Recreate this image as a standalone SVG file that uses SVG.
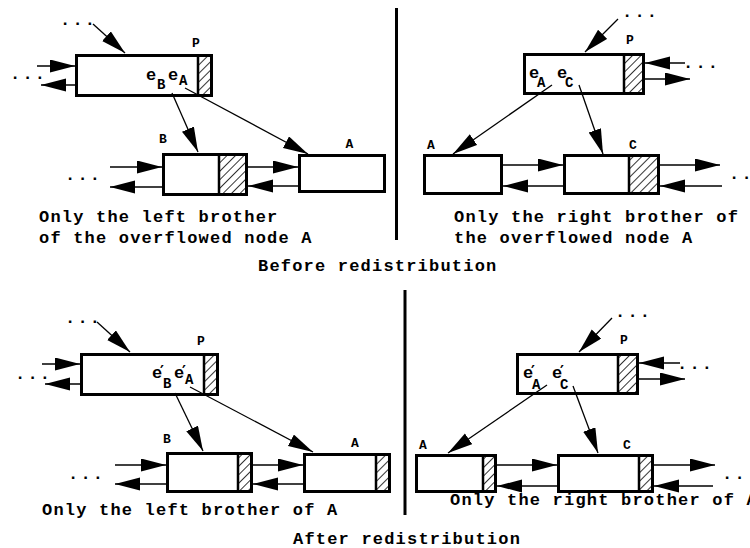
<svg xmlns="http://www.w3.org/2000/svg" width="750" height="548" viewBox="0 0 750 548">
<defs>
<marker id="ah" markerUnits="userSpaceOnUse" markerWidth="26" markerHeight="14" refX="25" refY="6.5" orient="auto">
<path d="M0,0 L25,6.5 L0,13 z" fill="#000"/>
</marker>
<pattern id="hatch" patternUnits="userSpaceOnUse" width="6" height="6" patternTransform="rotate(45)">
<line x1="0" y1="0" x2="0" y2="6" stroke="#000" stroke-width="1.6"/>
</pattern>
</defs>
<style>
.box{fill:#fff;stroke:#000;stroke-width:3}
.hat{fill:url(#hatch);stroke:#000;stroke-width:2.5}
.c{stroke:#000;stroke-width:1.3;fill:none;marker-end:url(#ah)}
.t{font-family:"Liberation Mono","Courier New",monospace;font-weight:bold;font-size:17px;letter-spacing:1.2px;fill:#000}
.d{font-family:"Liberation Mono","Courier New",monospace;font-weight:bold;font-size:17px;letter-spacing:2.2px;fill:#000}
.l{font-family:"Liberation Mono","Courier New",monospace;font-weight:bold;font-size:13px;text-anchor:middle;fill:#000}
.e{font-family:"Liberation Mono","Courier New",monospace;font-weight:bold;font-size:17px;fill:#000}
.s{font-family:"Liberation Mono","Courier New",monospace;font-weight:bold;font-size:14px;fill:#000}
.p{font-family:"DejaVu Sans","Liberation Sans",sans-serif;font-weight:bold;font-size:15px;fill:#000}
.div{stroke:#000;stroke-width:3}
</style>
<g id="dividers">
<line class="div" x1="396.5" y1="8" x2="396.5" y2="240"/>
<line class="div" x1="405" y1="290" x2="405" y2="515"/>
</g>
<!-- Top-left panel -->
<g id="tl-P">
<rect class="box" x="76.5" y="55.5" width="135" height="40"/>
<rect class="hat" x="198" y="55.5" width="13.5" height="40"/>
<rect x="76.5" y="55.5" width="135" height="40" fill="none" stroke="#000" stroke-width="3"/>
<text class="l" x="196" y="47">P</text>
<text class="e" x="146" y="80">e</text><text class="s" x="157" y="89">B</text>
<text class="e" x="168" y="80">e</text><text class="s" x="179" y="85">A</text>
</g>
<g id="tl-B">
<rect class="box" x="163.5" y="154.5" width="83" height="40"/>
<rect class="hat" x="219" y="154.5" width="27.5" height="40"/>
<rect x="163.5" y="154.5" width="83" height="40" fill="none" stroke="#000" stroke-width="3"/>
<text class="l" x="163" y="143">B</text>
</g>
<g id="tl-A">
<rect class="box" x="299.5" y="155.5" width="85" height="36"/>
<text class="l" x="349.5" y="148">A</text>
</g>
<!-- Top-right panel -->
<g id="tr-P">
<rect class="box" x="524.5" y="54.5" width="119" height="39"/>
<rect class="hat" x="624" y="54.5" width="19.5" height="39"/>
<rect x="524.5" y="54.5" width="119" height="39" fill="none" stroke="#000" stroke-width="3"/>
<text class="l" x="630" y="44">P</text>
<text class="e" x="529" y="78">e</text><text class="s" x="537" y="87">A</text>
<text class="e" x="557" y="78">e</text><text class="s" x="565" y="87">C</text>
</g>
<g id="tr-A">
<rect class="box" x="424.5" y="155.5" width="77" height="38"/>
<text class="l" x="431" y="149">A</text>
</g>
<g id="tr-C">
<rect class="box" x="564.5" y="155.5" width="94" height="38"/>
<rect class="hat" x="629" y="155.5" width="29.5" height="38"/>
<rect x="564.5" y="155.5" width="94" height="38" fill="none" stroke="#000" stroke-width="3"/>
<text class="l" x="633" y="149">C</text>
</g>
<!-- Bottom-left panel -->
<g id="bl-P">
<rect class="box" x="81.5" y="354.5" width="136" height="40"/>
<rect class="hat" x="204" y="354.5" width="13.5" height="40"/>
<rect x="81.5" y="354.5" width="136" height="40" fill="none" stroke="#000" stroke-width="3"/>
<text class="l" x="201" y="345">P</text>
<text class="e" x="152" y="378">e</text><text class="p" x="160" y="377">′</text><text class="s" x="163" y="388">B</text>
<text class="e" x="174" y="378">e</text><text class="p" x="182" y="377">′</text><text class="s" x="185" y="384">A</text>
</g>
<g id="bl-B">
<rect class="box" x="167.5" y="453.5" width="84" height="38"/>
<rect class="hat" x="238" y="453.5" width="13.5" height="38"/>
<rect x="167.5" y="453.5" width="84" height="38" fill="none" stroke="#000" stroke-width="3"/>
<text class="l" x="167" y="443">B</text>
</g>
<g id="bl-A">
<rect class="box" x="304.5" y="454.5" width="85" height="37"/>
<rect class="hat" x="376" y="454.5" width="13.5" height="37"/>
<rect x="304.5" y="454.5" width="85" height="37" fill="none" stroke="#000" stroke-width="3"/>
<text class="l" x="355" y="447">A</text>
</g>
<!-- Bottom-right panel -->
<g id="br-P">
<rect class="box" x="517.5" y="354.5" width="120" height="39"/>
<rect class="hat" x="618" y="354.5" width="19.5" height="39"/>
<rect x="517.5" y="354.5" width="120" height="39" fill="none" stroke="#000" stroke-width="3"/>
<text class="l" x="624" y="344">P</text>
<text class="e" x="523" y="378">e</text><text class="p" x="531" y="377">′</text><text class="s" x="532" y="389">A</text>
<text class="e" x="552" y="378">e</text><text class="p" x="560" y="377">′</text><text class="s" x="560" y="389">C</text>
</g>
<g id="br-A">
<rect class="box" x="416.5" y="455.5" width="79" height="36"/>
<rect class="hat" x="483" y="455.5" width="12.5" height="36"/>
<rect x="416.5" y="455.5" width="79" height="36" fill="none" stroke="#000" stroke-width="3"/>
<text class="l" x="423" y="449">A</text>
</g>
<g id="br-C">
<rect class="box" x="558.5" y="455.5" width="94" height="36"/>
<rect class="hat" x="639" y="455.5" width="13.5" height="36"/>
<rect x="558.5" y="455.5" width="94" height="36" fill="none" stroke="#000" stroke-width="3"/>
<text class="l" x="627" y="449">C</text>
</g>
<g id="connectors">
<line class="c" x1="93" y1="24" x2="125" y2="53"/>
<line class="c" x1="37" y1="66" x2="75" y2="66"/>
<line class="c" x1="75" y1="85" x2="41" y2="85"/>
<line class="c" x1="172" y1="93" x2="198" y2="152"/>
<line class="c" x1="185" y1="88" x2="308" y2="154"/>
<line class="c" x1="110" y1="167" x2="162" y2="167"/>
<line class="c" x1="162" y1="187" x2="110" y2="187"/>
<line class="c" x1="248" y1="167" x2="298" y2="167"/>
<line class="c" x1="298" y1="186" x2="248" y2="186"/>

<line class="c" x1="618" y1="19" x2="585" y2="52"/>
<line class="c" x1="685" y1="63" x2="645" y2="63"/>
<line class="c" x1="645" y1="79" x2="690" y2="79"/>
<line class="c" x1="552" y1="85" x2="453" y2="154"/>
<line class="c" x1="579" y1="85" x2="603" y2="154"/>
<line class="c" x1="503" y1="165" x2="563" y2="165"/>
<line class="c" x1="563" y1="186" x2="503" y2="186"/>
<line class="c" x1="660" y1="165" x2="720" y2="165"/>
<line class="c" x1="722" y1="186" x2="660" y2="186"/>

<line class="c" x1="97" y1="322" x2="130" y2="352"/>
<line class="c" x1="42" y1="364" x2="80" y2="364"/>
<line class="c" x1="80" y1="384" x2="45" y2="384"/>
<line class="c" x1="175" y1="393" x2="203" y2="451"/>
<line class="c" x1="190" y1="387" x2="313" y2="452"/>
<line class="c" x1="115" y1="465" x2="166" y2="465"/>
<line class="c" x1="166" y1="484" x2="115" y2="484"/>
<line class="c" x1="253" y1="465" x2="303" y2="465"/>
<line class="c" x1="303" y1="484" x2="253" y2="484"/>

<line class="c" x1="612" y1="318" x2="579" y2="352"/>
<line class="c" x1="680" y1="363" x2="639" y2="363"/>
<line class="c" x1="639" y1="379" x2="685" y2="379"/>
<line class="c" x1="547" y1="385" x2="448" y2="453"/>
<line class="c" x1="573" y1="386" x2="598" y2="453"/>
<line class="c" x1="497" y1="465" x2="557" y2="465"/>
<line class="c" x1="557" y1="486" x2="497" y2="486"/>
<line class="c" x1="654" y1="465" x2="715" y2="465"/>
<line class="c" x1="713" y1="486" x2="654" y2="486"/>
</g>
<g id="dots">
<text class="d" x="60" y="25">...</text>
<text class="d" x="10" y="79">...</text>
<text class="d" x="65" y="180">...</text>
<text class="d" x="622" y="17">...</text>
<text class="d" x="683" y="68">...</text>
<text class="d" x="729" y="179">...</text>
<text class="d" x="65" y="323">...</text>
<text class="d" x="15" y="379">...</text>
<text class="d" x="68" y="479">...</text>
<text class="d" x="615" y="317">...</text>
<text class="d" x="677" y="369">...</text>
<text class="d" x="722" y="479">...</text>
</g>
<g id="captions">
<text class="t" x="39" y="222">Only the left brother</text>
<text class="t" x="39" y="243">of the overflowed node A</text>
<text class="t" x="454" y="222">Only the right brother of</text>
<text class="t" x="454" y="243">the overflowed node A</text>
<text class="t" x="258" y="271">Before redistribution</text>
<text class="t" x="42" y="515">Only the left brother of A</text>
<text class="t" x="450" y="505">Only the right brother of A</text>
<text class="t" x="293" y="544">After redistribution</text>
</g>
</svg>
